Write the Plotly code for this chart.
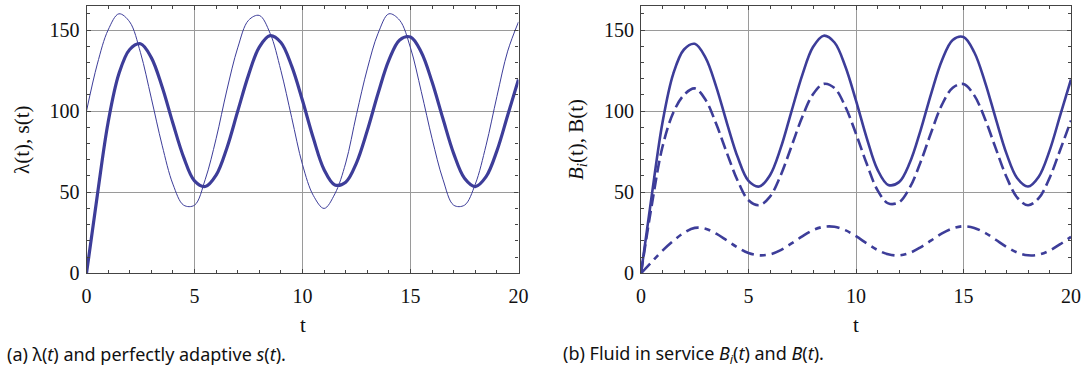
import plotly.graph_objects as go

t = [0, 0.5, 1, 1.5, 2, 2.5, 3, 3.5, 4, 4.5, 5, 5.5, 6, 6.5, 7, 7.5, 8, 8.5, 9, 9.5, 10,
     10.5, 11, 11.5, 12, 12.5, 13, 13.5, 14, 14.5, 15, 15.5, 16, 16.5, 17, 17.5, 18, 18.5, 19, 19.5, 20]

lam = [100, 129, 150, 160, 155, 136, 108, 79, 55, 42, 42, 58, 83, 113, 139, 156, 159, 148, 125, 96, 67,
       48, 40, 49, 68, 98, 126, 148, 160, 156, 139, 112, 83, 58, 42, 42, 55, 79, 109, 137, 155]

s = [0, 48, 93, 123, 138, 141.5, 133, 115, 92.5, 71.5, 57, 53.5, 60.5, 77.3, 99.9, 122.2, 139.5, 146.5, 142.3, 127.7, 106.5,
     83.4, 63.9, 54.5, 56.2, 68.1, 88, 111, 131.4, 143.9, 145.7, 136.3, 117.9, 95.4, 73.8, 58.6, 53.5, 59.6, 75.5, 97.5, 119.5]

B_total = s

B_1 = [0, 42, 78, 99, 110, 114, 107, 92, 74, 57, 45, 42, 47.3, 60.5, 78.3, 96.4, 110.4, 116.8, 114.2, 102.9, 86,
       67.5, 51.3, 43.1, 43.8, 52.8, 68.4, 87, 104, 114.4, 116.7, 109.7, 95.2, 77, 59.4, 46.7, 42, 46.3, 58.7, 76.2, 94.2]

B_2 = [0, 7, 14, 20, 25, 28, 27.5, 24.4, 20.2, 15.9, 12.5, 11.1, 11.7, 14.3, 18.4, 22.8, 26.6, 28.7, 28.7, 26.6, 22.9,
       18.4, 14.4, 11.7, 11, 12.6, 16, 20.3, 24.6, 27.7, 29, 28, 25, 20.7, 16.3, 12.8, 11.1, 11.5, 14, 18, 22.5]

x_ticks = [0, 5, 10, 15, 20]
y_ticks = [0, 50, 100, 150]

COLOR = "#3d3d99"
SERIF = "Liberation Serif"
TXT = "#111111"
FRAME = "#444444"

fig = go.Figure()

fig.add_trace(go.Scatter(x=t, y=lam, mode="lines", line=dict(color=COLOR, width=1, shape="spline", smoothing=1.0),
                         xaxis="x", yaxis="y", showlegend=False))
fig.add_trace(go.Scatter(x=t, y=s, mode="lines", line=dict(color=COLOR, width=3.2, shape="spline", smoothing=1.0),
                         xaxis="x", yaxis="y", showlegend=False))

fig.add_trace(go.Scatter(x=t, y=B_total, mode="lines", line=dict(color=COLOR, width=2.6, shape="spline", smoothing=1.0),
                         xaxis="x2", yaxis="y2", showlegend=False))
fig.add_trace(go.Scatter(x=t, y=B_1, mode="lines",
                         line=dict(color=COLOR, width=2.6, shape="spline", smoothing=1.0, dash="12px,5px"),
                         xaxis="x2", yaxis="y2", showlegend=False))
fig.add_trace(go.Scatter(x=t, y=B_2, mode="lines",
                         line=dict(color=COLOR, width=2.6, shape="spline", smoothing=1.0, dash="13px,6px,6px,6px"),
                         xaxis="x2", yaxis="y2", showlegend=False))

W, H = 1089, 369
Y0, Y1 = 273.3, 5.7
ydom = [1 - Y0 / H, 1 - Y1 / H]
LX = [86.5, 518.5]
RX = [641.0, 1071.0]

def xaxis_cfg(dom, anchor):
    return dict(domain=[dom[0] / W, dom[1] / W], anchor=anchor, range=[0, 20], tickvals=x_ticks,
                showgrid=True, gridcolor="#9a9a9a", gridwidth=1, zeroline=False,
                showline=True, linecolor=FRAME, linewidth=1.2, mirror="allticks",
                ticks="inside", ticklen=4, tickcolor=FRAME, automargin=False,
                ticklabelstandoff=5,
                minor=dict(dtick=1, ticks="inside", ticklen=3, tickcolor=FRAME, showgrid=False),
                tickfont=dict(family=SERIF, size=20, color=TXT))

def yaxis_cfg(anchor):
    return dict(domain=ydom, anchor=anchor, range=[0, 165], tickvals=y_ticks,
                showgrid=True, gridcolor="#9a9a9a", gridwidth=1, zeroline=False,
                showline=True, linecolor=FRAME, linewidth=1.2, mirror="allticks",
                ticks="inside", ticklen=4, tickcolor=FRAME, automargin=False,
                ticklabelstandoff=2,
                minor=dict(dtick=10, ticks="inside", ticklen=3, tickcolor=FRAME, showgrid=False),
                tickfont=dict(family=SERIF, size=20, color=TXT))

def ann(text, x, y, size, family, angle=0, xanchor="center"):
    return dict(text=text, x=x / W, y=1 - y / H, xref="paper", yref="paper", xanchor=xanchor,
                yanchor="middle", showarrow=False, textangle=angle,
                font=dict(family=family, size=size, color=TXT))

fig.update_layout(
    width=W, height=H,
    margin=dict(l=0, r=0, t=0, b=0, autoexpand=False),
    plot_bgcolor="white", paper_bgcolor="white",
    xaxis=xaxis_cfg(LX, "y"),
    yaxis=yaxis_cfg("x"),
    xaxis2=xaxis_cfg(RX, "y2"),
    yaxis2=yaxis_cfg("x2"),
    annotations=[
        ann("λ(t), s(t)", 22, 140, 21, SERIF, angle=-90),
        ann("t", (LX[0] + LX[1]) / 2, 325, 21, SERIF),
        ann("<i>B</i><sub><i>i</i></sub>(t), B(t)", 577, 140, 21, SERIF, angle=-90),
        ann("t", (RX[0] + RX[1]) / 2, 325, 21, SERIF),
        ann("(a) λ(<i>t</i>) and perfectly adaptive <i>s</i>(<i>t</i>).", 5, 354, 18, "Noto Sans", xanchor="left"),
        ann("(b) Fluid in service <i>B</i><sub><i>i</i></sub>(<i>t</i>) and <i>B</i>(<i>t</i>).", 561, 354, 18,
            "Noto Sans", xanchor="left"),
    ],
)

fig.write_html("out.html", config={"displayModeBar": False},
               post_script="document.body.style.margin='0';document.body.style.overflow='hidden';")
